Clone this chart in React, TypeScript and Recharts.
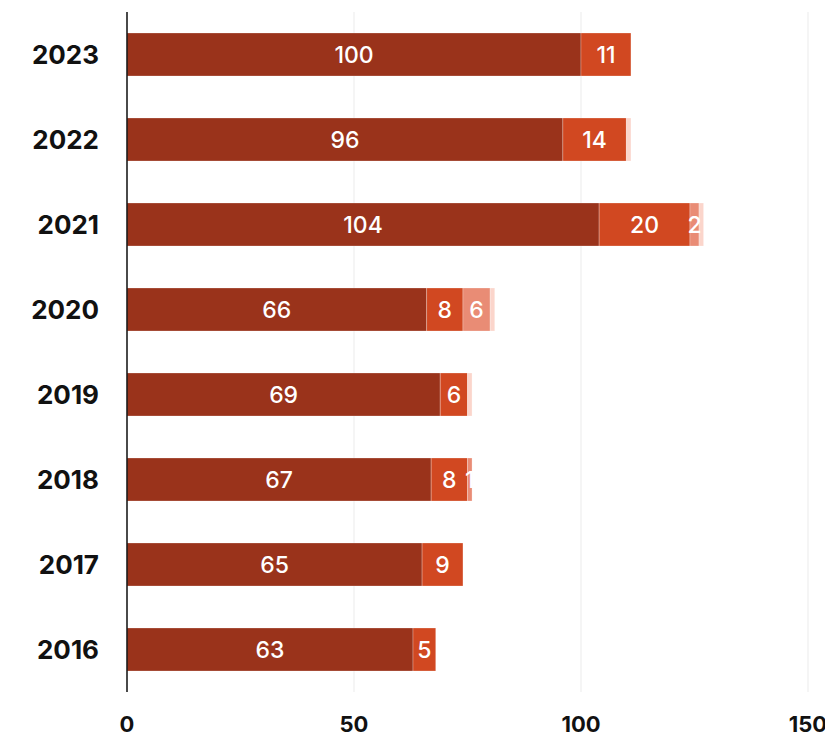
import React from 'react';
import { BarChart, Bar, XAxis, YAxis, CartesianGrid, LabelList } from 'recharts';

const years = ['2023', '2022', '2021', '2020', '2019', '2018', '2017', '2016'];
const seriesA = [100, 96, 104, 66, 69, 67, 65, 63];
const seriesB = [11, 14, 20, 8, 6, 8, 9, 5];
const seriesC = [0, 0, 2, 6, 0, 1, 0, 0];
const seriesD = [0, 1, 1, 1, 1, 0, 0, 0];
const xTicks = [0, 50, 100, 150];

const data = years.map((year, i) => ({
    year,
    a: seriesA[i],
    b: seriesB[i],
    c: seriesC[i],
    d: seriesD[i],
}));

const font = 'Inter, "Noto Sans", sans-serif';
const hideZero = (v: any) => (v ? v : '');

const labelStyle = { fill: '#fff', fontSize: 23, fontWeight: 500, fontFamily: font };

const App: React.FC = () => (
    <div style={{ width: 825, height: 731, overflow: 'visible' }}>
        <BarChart
            width={825}
            height={731}
            data={data}
            layout="vertical"
            margin={{ top: 4, right: 25, bottom: 7, left: 0 }}
            barCategoryGap={21}
            style={{ overflow: 'visible' }}
        >
            <CartesianGrid horizontal={false} stroke="#ebebeb" />
            <XAxis
                type="number"
                domain={[0, 150]}
                ticks={xTicks}
                axisLine={false}
                tickLine={false}
                height={40}
                tickMargin={18}
                tick={{ fill: '#111', fontSize: 22, fontWeight: 700, fontFamily: font }}
            />
            <YAxis
                type="category"
                dataKey="year"
                width={119}
                tickLine={false}
                axisLine={{ stroke: '#111', strokeWidth: 1.5 }}
                tickMargin={22}
                tick={{ fill: '#111', fontSize: 26, fontWeight: 700, fontFamily: font }}
            />
            <Bar dataKey="a" stackId="s" fill="#9a331b" stroke="#fff" strokeOpacity={0.25} isAnimationActive={false}>
                <LabelList dataKey="a" position="center" formatter={hideZero} style={labelStyle} />
            </Bar>
            <Bar dataKey="b" stackId="s" fill="#d14821" stroke="#fff" strokeOpacity={0.25} isAnimationActive={false}>
                <LabelList dataKey="b" position="center" formatter={hideZero} style={labelStyle} />
            </Bar>
            <Bar dataKey="c" stackId="s" fill="#e98c75" stroke="#fff" strokeOpacity={0.25} isAnimationActive={false}>
                <LabelList dataKey="c" position="center" formatter={hideZero} style={labelStyle} />
            </Bar>
            <Bar dataKey="d" stackId="s" fill="#fbd5cb" stroke="#fff" strokeOpacity={0.25} isAnimationActive={false} />
        </BarChart>
    </div>
);

export default App;
